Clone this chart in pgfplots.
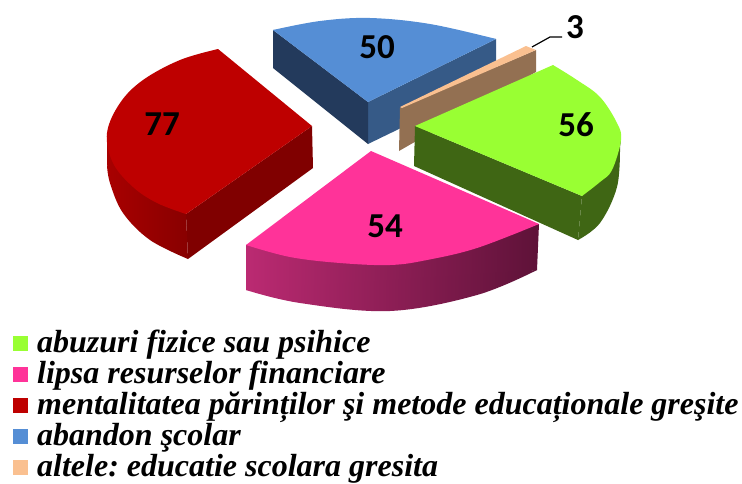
\documentclass[border=0pt]{standalone}
\usepackage{pgfplots}
\pgfplotsset{compat=1.18}
\usepackage{fontspec}
\setmainfont{Liberation Serif}
\newfontfamily\labelfont{Carlito}
\definecolor{cgreen}{HTML}{99FF33}
\definecolor{cgreend}{HTML}{3F6614}
\definecolor{cpink}{HTML}{FF3399}
\definecolor{cpinkl}{HTML}{BB2A72}
\definecolor{cpinkr}{HTML}{5E1238}
\definecolor{cred}{HTML}{BE0000}
\definecolor{credd}{HTML}{800000}
\definecolor{credl}{HTML}{A80000}
\definecolor{credr}{HTML}{880000}
\definecolor{cblue}{HTML}{558ED5}
\definecolor{cblued}{HTML}{233A5C}
\definecolor{cbluem}{HTML}{365A87}
\definecolor{cbeige}{HTML}{FAC090}
\definecolor{cbeiged}{HTML}{937052}
\pgfplotsset{
  face/.style={draw=none, no markers, sharp plot, fill=#1, forget plot},
  arc/.style={draw=none, no markers, smooth, tension=0.6, fill=#1, forget plot},
  grad/.style n args={2}{draw=none, no markers, sharp plot, shade, shading angle=90, left color=#1, right color=#2, forget plot},
  gradarc/.style n args={2}{draw=none, no markers, smooth, tension=0.6, shade, shading angle=90, left color=#1, right color=#2, forget plot},
  swatch/.style={legend image code/.code={\fill[##1, draw=none] (0pt,-5pt) rectangle (15pt,10pt);}},
}
\newcommand{\lab}{\labelfont\bfseries\fontsize{35}{35}\selectfont}
\begin{document}
\begin{tikzpicture}
\begin{axis}[
    scale only axis,
    width=742pt, height=481pt,
    xmin=0, xmax=742, ymin=0, ymax=481,
    y dir=reverse,
    axis line style={draw=none},
    xtick=\empty, ytick=\empty,
    clip=false,
    legend cell align=left,
    legend style={at={(0.0175,0.31)}, anchor=north west, draw=none, fill=none, inner sep=0pt,
      font=\fontsize{32}{32}\selectfont\bfseries\itshape,
      row sep=4pt,
      nodes={inner sep=0pt, text height=20pt, text depth=7pt},
      /tikz/every odd column/.append style={column sep=9pt}},
]
% legend entries
\addlegendimage{swatch, fill=cgreen}\addlegendentry{abuzuri fizice sau psihice}
\addlegendimage{swatch, fill=cpink}\addlegendentry{lipsa resurselor financiare}
\addlegendimage{swatch, fill=cred}\addlegendentry{mentalitatea părinților şi metode educaționale greşite}
\addlegendimage{swatch, fill=cblue}\addlegendentry{abandon şcolar}
\addlegendimage{swatch, fill=cbeige}\addlegendentry{altele:\ educatie scolara gresita}

% blue slice: 50
\addplot[face=cbluem] coordinates {(368,102)(496,39)(496,82)(368,144)};
\addplot[face=cblued] coordinates {(273,30)(368,102)(368,144)(273,68)};
\addplot[face=cblue] coordinates {(273,30)(368,102)(496,39)(380,25)};
\addplot[arc=cblue] coordinates {(273,30)(320,21)(370,18)(430,24)(496,39)};

% beige slice: 3
\addplot[face=cbeiged] coordinates {(400,108)(536,50)(536,72)(399,151)};
\addplot[face=cbeige] coordinates {(400,107)(526,46)(536,50)(402,108)};

% green slice: 56
\addplot[face=cgreend] coordinates {(415,126)(582,196)(578,240)(414,166)};
\addplot[face=cgreend] coordinates {(621,140)(582,196)(578,240)(600,205)(620,147)};
\addplot[arc=cgreend] coordinates {(620,147)(617,187)(600,223)(578,240)};
\addplot[face=cgreen] coordinates {(415,126)(553,65)(600,130)(582,196)};
\addplot[arc=cgreen] coordinates {(553,65)(577,80)(600,97)(617,123)(621,140)(612,170)(600,182)(582,196)};

% pink slice: 54
\addplot[grad={cpinkl}{cpinkr}] coordinates {(246,245)(539,224)(537,270)(390,290)(246,290)};
\addplot[gradarc={cpinkl}{cpinkr}] coordinates {(246,290)(300,303)(390,311)(477,295)(537,270)};
\addplot[face=cpink] coordinates {(371,151)(539,224)(390,258)(246,245)};
\addplot[arc=cpink] coordinates {(246,245)(290,257)(340,263)(390,265)(427,260)(477,248)(539,224)};

% red slice: 77
\addplot[face=credd] coordinates {(312,126)(186,214)(188,259)(313,168)};
\addplot[grad={credl}{credr}] coordinates {(107,133)(186,214)(188,259)(135,218)(107,165)};
\addplot[gradarc={credl}{credr}] coordinates {(107,165)(110,183)(123,213)(150,240)(188,259)};
\addplot[face=cred] coordinates {(218,49)(312,126)(186,214)(150,130)};
\addplot[arc=cred] coordinates {(218,49)(180,60)(143,80)(120,103)(107,133)(113,163)(133,187)(157,203)(186,214)};

% leader line for the small slice
\addplot[black, line width=1.2pt, no markers, sharp plot, forget plot] coordinates {(532,47)(550,37)(562,37)};

\node[font=\lab] at (axis cs:377,47) {50};
\node[font=\lab] at (axis cs:162,124) {77};
\node[font=\lab] at (axis cs:576,125) {56};
\node[font=\lab] at (axis cs:385,226) {54};
\node[font=\lab] at (axis cs:575,27) {3};
\end{axis}
\end{tikzpicture}
\end{document}
